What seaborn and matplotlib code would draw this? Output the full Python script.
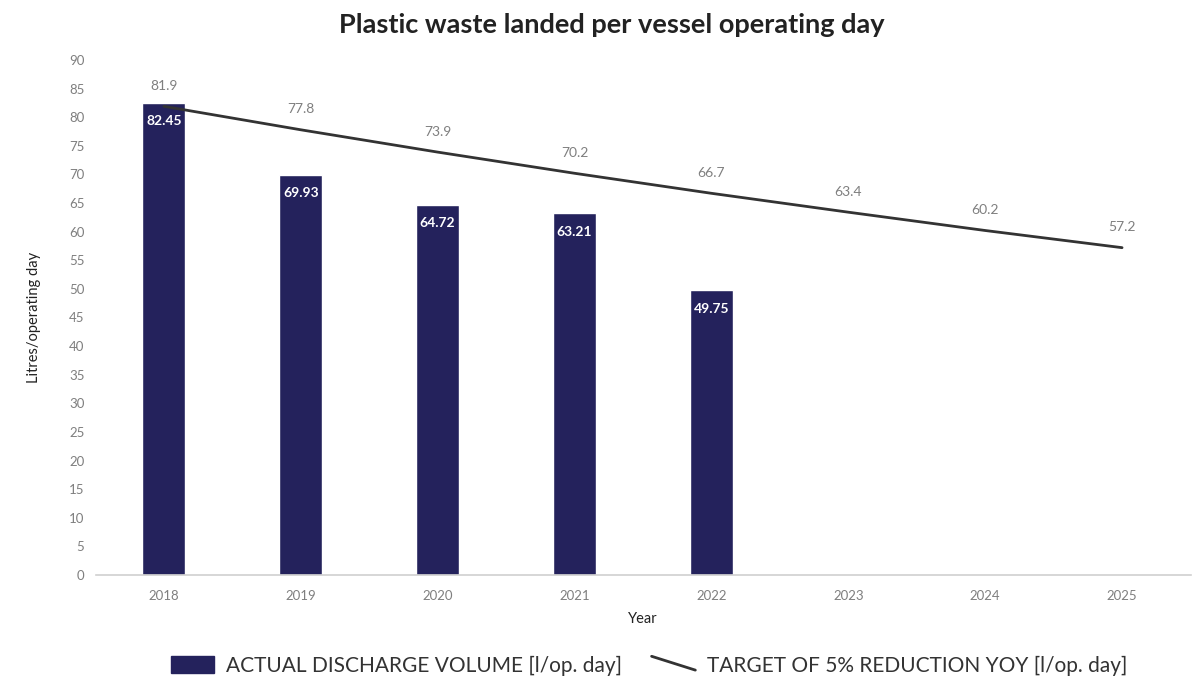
import numpy as np
import pandas as pd
import matplotlib
matplotlib.use("Agg")
import matplotlib.pyplot as plt
import seaborn as sns
from matplotlib.lines import Line2D
from matplotlib.patches import Patch
from matplotlib.legend_handler import HandlerLine2D

# data
years = ["2018", "2019", "2020", "2021", "2022", "2023", "2024", "2025"]
actual = [82.45, 69.93, 64.72, 63.21, 49.75, np.nan, np.nan, np.nan]
target = [81.9, 77.8, 73.9, 70.2, 66.7, 63.4, 60.2, 57.2]

bar_color = "#24225c"
line_color = "#333333"
grey = "#7f7f7f"

sns.set_theme(style="white")
plt.rcParams["font.family"] = ["Lato", "DejaVu Sans"]

df = pd.DataFrame({"year": years, "actual": actual, "target": target})

fig = plt.figure(figsize=(12, 6.77), dpi=100)
ax = fig.add_axes([95.5 / 1200, 0.1507, 0.9125, 0.7607])

sns.barplot(data=df, x="year", y="actual", order=years, color=bar_color,
            width=0.315, saturation=1, ax=ax)
pos = np.arange(len(years))
sns.lineplot(x=pos, y=target, color=line_color, linewidth=2, ax=ax)

# bar labels (white, inside top)
for i, v in enumerate(actual):
    if not np.isnan(v):
        ax.text(i, v - 3.2, f"{v:.2f}", ha="center", va="center",
                color="white", fontsize=10, fontweight="bold")
# target labels above line
for i, v in enumerate(target):
    ax.text(i, v + 3.6, f"{v}", ha="center", va="center",
            color=grey, fontsize=10)

ax.set_xlim(-0.5, len(years) - 0.5)
ax.set_ylim(0, 90)
ax.set_yticks(range(0, 91, 5))
ax.tick_params(axis="both", length=0, labelsize=9.5, colors=grey, pad=8)
ax.tick_params(axis="x", pad=11)
for s in ["top", "right", "left"]:
    ax.spines[s].set_visible(False)
ax.spines["bottom"].set_color("#d0d0d0")
ax.spines["bottom"].set_linewidth(1.2)

ax.set_xlabel("Year", fontsize=10.5, color="#222222", labelpad=7)
ax.set_ylabel("Litres/operating day", fontsize=10.5, color="#222222", labelpad=20)
fig.text(0.51, 1 - 25 / 677, "Plastic waste landed per vessel operating day",
         fontsize=19.5, fontweight="bold", color="#222222",
         ha="center", va="center")


class DiagLine(HandlerLine2D):
    def create_artists(self, legend, orig_handle, xdescent, ydescent,
                       width, height, fontsize, trans):
        line = Line2D([-xdescent, -xdescent + width],
                      [height * 0.9, height * 0.1],
                      color=orig_handle.get_color(),
                      linewidth=orig_handle.get_linewidth())
        line.set_transform(trans)
        return [line]


handles = [Patch(facecolor=bar_color, edgecolor=bar_color),
           Line2D([], [], color=line_color, linewidth=2)]
labels = ["ACTUAL DISCHARGE VOLUME [l/op. day]",
          "TARGET OF 5% REDUCTION YOY [l/op. day]"]
leg = fig.legend(handles, labels, loc="lower center", bbox_to_anchor=(0.541, -0.026),
                 ncol=2, frameon=False, fontsize=15, handlelength=2.1,
                 handleheight=0.9, columnspacing=1.4, handletextpad=0.58,
                 handler_map={Line2D: DiagLine()})
for t in leg.get_texts():
    t.set_color("#333333")

fig.savefig("out.png", dpi=100)
